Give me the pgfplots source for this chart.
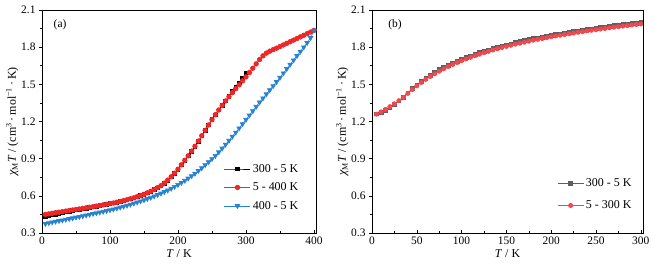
\documentclass[border=0pt]{standalone}
\usepackage{fontspec}
\setmainfont{Liberation Serif}
\usepackage{pgfplots}
\pgfplotsset{compat=1.18}
\definecolor{cred}{RGB}{238,40,40}
\definecolor{cblue}{RGB}{40,130,210}
\definecolor{cgrey}{RGB}{95,95,95}
\definecolor{cpink}{RGB}{242,72,78}
\newcommand\ylab{\textit{χ}\textsubscript{\upshape M}\textit{T} / (cm\textsuperscript{3}\,·\,mol\textsuperscript{−1}\,·\,K)}
\pgfplotsset{myax/.style={
  scale only axis, height=223bp, ymin=0.3, ymax=2.1,
  ytick={0.3,0.6,0.9,1.2,1.5,1.8,2.1}, minor y tick num=1, minor x tick num=1,
  tick pos=left, xtick align=inside, ytick align=outside,
  major tick length=3bp, minor tick length=2bp,
  yticklabel style={/pgf/number format/.cd, fixed, fixed zerofill, precision=1},
  /pgf/number format/assume math mode=true,
  tick label style={font=\fontsize{11.5}{13}\selectfont},
  label style={font=\fontsize{12}{14}\selectfont},
  xlabel={\textit{T} / K}, ylabel={\ylab},
  xlabel style={yshift=1.5bp}, ylabel style={yshift=-4bp},
  axis line style={line width=0.6bp}, tick style={line width=0.5bp, black},
  legend style={draw=none, fill=none, font=\fontsize{12}{14}\selectfont, anchor=north west, row sep=5bp, inner sep=0pt, cells={anchor=west}},
  legend image code/.code={\draw[mark repeat=2,mark phase=2,##1] plot coordinates {(0bp,0bp) (13bp,0bp) (26bp,0bp)};},
  every axis plot/.append style={line width=0.7bp},
}}
\begin{document}
\begin{tikzpicture}
\begin{axis}[myax, at={(0,0)}, anchor=south west, width=274bp, xmin=0, xmax=403,
  xtick={0,100,200,300,400},
  legend style={at={(rel axis cs:0.664,0.318)}}]
\addplot[black, mark=square*, mark size=1.8bp] table {
300 1.590
295 1.548
290 1.512
285 1.478
280 1.444
275 1.403
270 1.366
265 1.330
260 1.293
255 1.255
250 1.215
245 1.172
240 1.129
235 1.085
230 1.042
225 1.000
220 0.961
215 0.923
210 0.886
205 0.850
200 0.815
195 0.783
190 0.754
185 0.727
180 0.703
175 0.682
170 0.666
165 0.651
160 0.637
155 0.624
150 0.612
145 0.602
140 0.593
135 0.584
130 0.576
125 0.568
120 0.561
115 0.554
110 0.548
105 0.542
100 0.537
95 0.531
90 0.526
85 0.521
80 0.516
75 0.511
70 0.506
65 0.501
60 0.496
55 0.491
50 0.486
45 0.481
40 0.476
35 0.470
30 0.464
25 0.458
20 0.452
15 0.446
10 0.441
5 0.436
};
\addlegendentry{300 - 5 K}
\addplot[cred, mark=*, mark size=2.3bp] table {
5 0.450
10 0.454
15 0.459
20 0.464
25 0.468
30 0.472
35 0.477
40 0.481
45 0.486
50 0.490
55 0.494
60 0.499
65 0.503
70 0.508
75 0.512
80 0.517
85 0.522
90 0.527
95 0.532
100 0.537
105 0.542
110 0.548
115 0.554
120 0.561
125 0.568
130 0.576
135 0.584
140 0.593
145 0.602
150 0.612
155 0.624
160 0.637
165 0.651
170 0.666
175 0.682
180 0.703
185 0.727
190 0.754
195 0.783
200 0.815
205 0.850
210 0.886
215 0.923
220 0.961
225 1.000
230 1.042
235 1.085
240 1.129
245 1.172
250 1.215
255 1.255
260 1.293
265 1.330
270 1.366
275 1.400
280 1.433
285 1.465
290 1.496
295 1.528
300 1.560
305 1.595
310 1.630
315 1.665
320 1.700
325 1.730
330 1.752
335 1.768
340 1.780
345 1.792
350 1.805
355 1.818
360 1.831
365 1.844
370 1.857
375 1.870
380 1.883
385 1.896
390 1.909
395 1.922
400 1.935
};
\addlegendentry{5 - 400 K}
\addplot[cblue, mark=triangle*, mark size=2.6bp, mark options={rotate=180}] table {
400 1.935
395 1.875
390 1.835
385 1.800
380 1.765
375 1.730
370 1.695
365 1.660
360 1.625
355 1.590
350 1.555
345 1.520
340 1.487
335 1.454
330 1.421
325 1.388
320 1.355
315 1.320
310 1.285
305 1.250
300 1.215
295 1.180
290 1.146
285 1.112
280 1.079
275 1.046
270 1.014
265 0.983
260 0.953
255 0.924
250 0.898
245 0.873
240 0.849
235 0.825
230 0.802
225 0.780
220 0.760
215 0.741
210 0.723
205 0.706
200 0.690
195 0.674
190 0.659
185 0.645
180 0.632
175 0.620
170 0.608
165 0.597
160 0.586
155 0.576
150 0.566
145 0.557
140 0.548
135 0.539
130 0.530
125 0.522
120 0.514
115 0.507
110 0.499
105 0.492
100 0.485
95 0.479
90 0.473
85 0.467
80 0.461
75 0.455
70 0.449
65 0.443
60 0.437
55 0.431
50 0.426
45 0.420
40 0.414
35 0.409
30 0.403
25 0.398
20 0.393
15 0.387
10 0.381
5 0.375
};
\addlegendentry{400 - 5 K}
\node[font=\fontsize{11.5}{13}\selectfont] at (rel axis cs:0.066,0.933) {(a)};
\end{axis}
\begin{axis}[myax, at={(330bp,0)}, anchor=south west, width=271bp, xmin=0, xmax=302.5,
  xtick={0,50,100,150,200,250,300},
  legend style={at={(rel axis cs:0.683,0.255)}, row sep=9bp}]
\addplot[cgrey, mark=square*, mark size=1.9bp] table {
300 1.998
295 1.994
290 1.990
285 1.986
280 1.982
275 1.977
270 1.973
265 1.968
260 1.963
255 1.958
250 1.953
245 1.948
240 1.943
235 1.937
230 1.932
225 1.926
220 1.920
215 1.914
210 1.908
205 1.902
200 1.896
195 1.889
190 1.882
185 1.875
180 1.868
175 1.860
170 1.852
165 1.844
160 1.836
155 1.827
150 1.818
145 1.809
140 1.799
135 1.789
130 1.778
125 1.767
120 1.755
115 1.743
110 1.730
105 1.717
100 1.703
95 1.688
90 1.672
85 1.655
80 1.637
75 1.618
70 1.597
65 1.575
60 1.551
55 1.525
50 1.496
45 1.465
40 1.432
35 1.398
30 1.367
25 1.337
20 1.310
15 1.289
10 1.270
5 1.262
};
\addlegendentry{300 - 5 K}
\addplot[cpink, mark=*, mark size=2.1bp] table {
5 1.259
10 1.278
15 1.298
20 1.320
25 1.343
30 1.368
35 1.395
40 1.427
45 1.458
50 1.488
55 1.515
60 1.540
65 1.563
70 1.585
75 1.606
80 1.625
85 1.643
90 1.660
95 1.676
100 1.691
105 1.705
110 1.718
115 1.731
120 1.743
125 1.755
130 1.766
135 1.777
140 1.787
145 1.797
150 1.806
155 1.815
160 1.824
165 1.832
170 1.840
175 1.848
180 1.856
185 1.863
190 1.870
195 1.877
200 1.884
205 1.890
210 1.896
215 1.902
220 1.908
225 1.914
230 1.920
235 1.925
240 1.931
245 1.936
250 1.941
255 1.946
260 1.951
265 1.956
270 1.961
275 1.965
280 1.970
285 1.974
290 1.979
295 1.983
300 1.987
};
\addlegendentry{5 - 300 K}
\node[font=\fontsize{11.5}{13}\selectfont] at (rel axis cs:0.085,0.933) {(b)};
\end{axis}
\pgfresetboundingbox
\path[use as bounding box] (-42bp,-35bp) rectangle (612bp,233bp);
\end{tikzpicture}
\end{document}
